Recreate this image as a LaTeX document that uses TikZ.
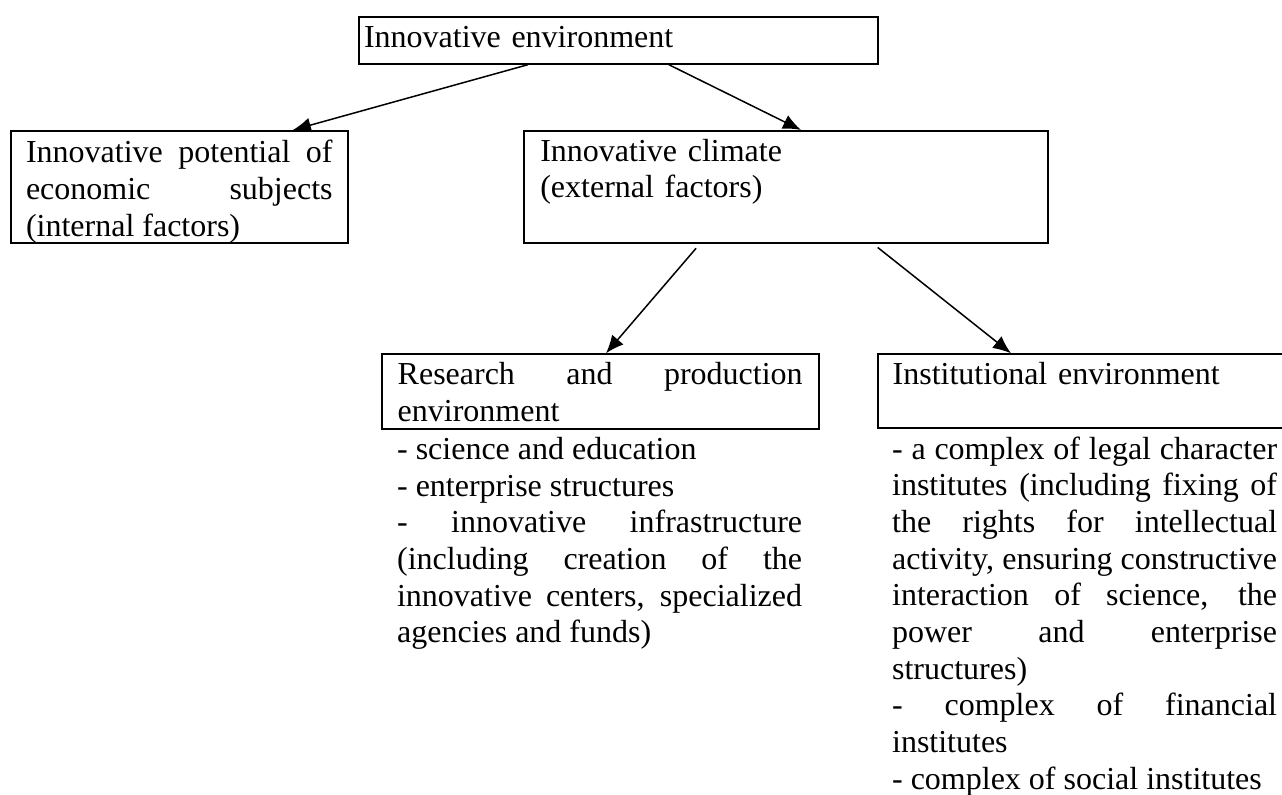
\documentclass[tikz,border=0pt]{standalone}
\usepackage{fontspec}
\setmainfont{Liberation Serif}
\usetikzlibrary{positioning, arrows.meta}
\tolerance=10000
\hbadness=10000
\hyphenpenalty=10000

\begin{document}
\begin{tikzpicture}[x=0.5pt, y=-0.5pt,
  every node/.style={font=\fontsize{16pt}{18.35pt}\selectfont},
  frame/.style={draw, rectangle, line width=1pt, anchor=north west, align=justify, inner ysep=0pt},
  items/.style={anchor=base west, align=justify, inner sep=0pt},
  link/.style={line width=0.75pt, -{Latex[length=9pt, width=7.5pt]}}]

\useasboundingbox (0,0) rectangle (1282,794);

% Box nodes
\node[frame, align=left, text width=254.3pt, inner xsep=2.5pt, text height=15.35pt, text depth=8pt] (env) at (358,16) {Innovative environment};
\node[frame, text width=153.3pt, inner xsep=7.5pt, text height=15.85pt, text depth=40pt] (potential) at (10,130) {Innovative potential of\linebreak economic subjects\linebreak (internal factors)};
\node[frame, align=left, text width=245.7pt, inner xsep=8pt, text height=15pt, text depth=40.85pt] (climate) at (523.3,130) {Innovative climate\\(external factors)};
\node[frame, text width=202.5pt, inner xsep=8pt, text height=15pt, text depth=22.2pt] (research) at (380.7,353.3) {Research and production\linebreak environment};
\node[frame, align=left, text width=192.5pt, inner xsep=7.5pt, text height=14.85pt, text depth=22.15pt] (institutional) at (876.7,353.3) {Institutional environment};

% Lists under the boxes
\node[items, text width=202.5pt] (researchlist) at ([xshift=8pt, yshift=-37.5pt]research.base west) {- science and education\\- enterprise structures\\- innovative infrastructure\linebreak (including creation of the\linebreak innovative centers, specialized\linebreak agencies and funds)};
\node[items, text width=192.5pt] (instlist) at ([xshift=7.5pt, yshift=-37.5pt]institutional.base west) {- a complex of legal character\linebreak institutes (including fixing of\linebreak the rights for intellectual\linebreak activity, ensuring constructive\linebreak interaction of science, the\linebreak power and enterprise\linebreak structures)\\- complex of financial\linebreak institutes\\- complex of social institutes};

% Connections
\draw[link] ([xshift=-45.2pt]env.south) -- ([xshift=56.8pt]potential.north);
\draw[link] ([xshift=25.3pt]env.south) -- ([xshift=7.5pt]climate.north);
\draw[link, shorten <=3pt] ([xshift=-43pt]climate.south) -- ([xshift=2.9pt]research.north);
\draw[link, shorten <=3pt] ([xshift=43.5pt]climate.south) -- ([xshift=-37.1pt]institutional.north);

\end{tikzpicture}
\end{document}
